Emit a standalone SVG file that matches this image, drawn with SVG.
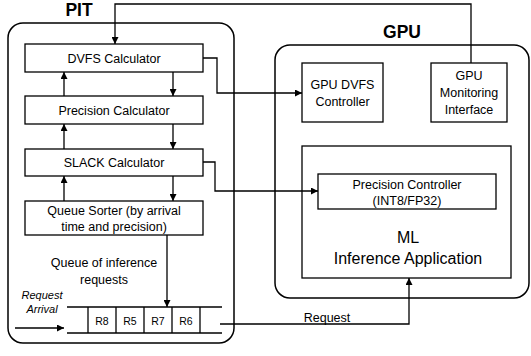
<svg xmlns="http://www.w3.org/2000/svg" width="531" height="356" viewBox="0 0 531 356">
  <style>
    .frame { fill: none; stroke: #000; stroke-width: 1.5; }
    .box { fill: #fff; stroke: #000; stroke-width: 1.3; }
    .wire { fill: none; stroke: #000; stroke-width: 1.3; }
    text { font-family: "Liberation Sans", Arial, sans-serif; font-size: 12.5px; fill: #000; text-anchor: middle; }
    .title { font-size: 17.5px; font-weight: bold; }
    .big { font-size: 16px; }
    .small { font-size: 10.5px; }
    .it { font-style: italic; font-size: 11px; }
  </style>
  <defs>
    <marker id="arrow" viewBox="0 0 10 10" refX="10" refY="5" markerWidth="7" markerHeight="7" markerUnits="userSpaceOnUse" orient="auto">
      <path d="M0,0 L10,5 L0,10 z" fill="#000"/>
    </marker>
  </defs>

  <!-- PIT container -->
  <g id="pit">
    <rect class="frame" x="8" y="23" width="226" height="320" rx="15"/>
    <text class="title" x="79" y="16">PIT</text>
  </g>

  <g id="dvfs-calculator">
    <rect class="box" x="25" y="44" width="178" height="28"/>
    <text x="114" y="62.5">DVFS Calculator</text>
  </g>
  <g id="precision-calculator">
    <rect class="box" x="25" y="96" width="178" height="28"/>
    <text x="114" y="114.5">Precision Calculator</text>
  </g>
  <g id="slack-calculator">
    <rect class="box" x="25" y="149" width="178" height="27"/>
    <text x="114" y="167">SLACK Calculator</text>
  </g>
  <g id="queue-sorter">
    <rect class="box" x="25" y="201" width="178" height="34"/>
    <text x="114" y="215">Queue Sorter (by arrival</text>
    <text x="114" y="231">time and precision)</text>
  </g>

  <g id="queue-label">
    <text x="104" y="267">Queue of inference</text>
    <text x="104" y="284">requests</text>
  </g>
  <g id="request-arrival">
    <text class="it" x="42" y="299">Request</text>
    <text class="it" x="42" y="313">Arrival</text>
  </g>

  <!-- Request queue -->
  <g id="request-queue">
    <line class="wire" x1="67" y1="307" x2="222" y2="307"/>
    <line class="wire" x1="67" y1="333" x2="222" y2="333"/>
    <line class="wire" x1="88" y1="307" x2="88" y2="333"/>
    <line class="wire" x1="116" y1="307" x2="116" y2="333"/>
    <line class="wire" x1="144" y1="307" x2="144" y2="333"/>
    <line class="wire" x1="172" y1="307" x2="172" y2="333"/>
    <line class="wire" x1="200" y1="307" x2="200" y2="333"/>
    <text class="small" x="102" y="325">R8</text>
    <text class="small" x="130" y="325">R5</text>
    <text class="small" x="158" y="325">R7</text>
    <text class="small" x="186" y="325">R6</text>
  </g>

  <!-- GPU container -->
  <g id="gpu">
    <rect class="frame" x="275" y="45" width="254" height="253" rx="15"/>
    <text class="title" x="402" y="38">GPU</text>
  </g>
  <g id="gpu-dvfs-controller">
    <rect class="box" x="302" y="63" width="81" height="59"/>
    <text x="342.5" y="89">GPU DVFS</text>
    <text x="342.5" y="106">Controller</text>
  </g>
  <g id="gpu-monitoring-interface">
    <rect class="box" x="431" y="63" width="76" height="59"/>
    <text x="469" y="80">GPU</text>
    <text x="469" y="97">Monitoring</text>
    <text x="469" y="114">Interface</text>
  </g>
  <g id="ml-inference-application">
    <rect class="box" x="302" y="146" width="209" height="132"/>
    <text class="big" x="408" y="243">ML</text>
    <text class="big" x="408" y="264">Inference Application</text>
  </g>
  <g id="precision-controller">
    <rect class="box" x="318" y="174" width="178" height="35"/>
    <text x="407" y="188.5">Precision Controller</text>
    <text x="407" y="204.5">(INT8/FP32)</text>
  </g>

  <!-- Connectors -->
  <g id="connectors">
    <line class="wire" x1="64" y1="96" x2="64" y2="72" marker-end="url(#arrow)"/>
    <line class="wire" x1="173" y1="72" x2="173" y2="96" marker-end="url(#arrow)"/>
    <line class="wire" x1="64" y1="149" x2="64" y2="124" marker-end="url(#arrow)"/>
    <line class="wire" x1="173" y1="124" x2="173" y2="149" marker-end="url(#arrow)"/>
    <line class="wire" x1="64" y1="201" x2="64" y2="176" marker-end="url(#arrow)"/>
    <line class="wire" x1="173" y1="176" x2="173" y2="201" marker-end="url(#arrow)"/>
    <line class="wire" x1="167" y1="235" x2="167" y2="307" marker-end="url(#arrow)"/>
    <line class="wire" x1="15" y1="328" x2="64" y2="328" marker-end="url(#arrow)"/>
    <polyline class="wire" points="471,63 471,4 115,4 115,44" marker-end="url(#arrow)"/>
    <polyline class="wire" points="203,58 217,58 217,93 302,93" marker-end="url(#arrow)"/>
    <polyline class="wire" points="203,162 215,162 215,191 318,191" marker-end="url(#arrow)"/>
    <polyline class="wire" points="220,324 409,324 409,278" marker-end="url(#arrow)"/>
    <text x="327" y="322">Request</text>
  </g>
</svg>
